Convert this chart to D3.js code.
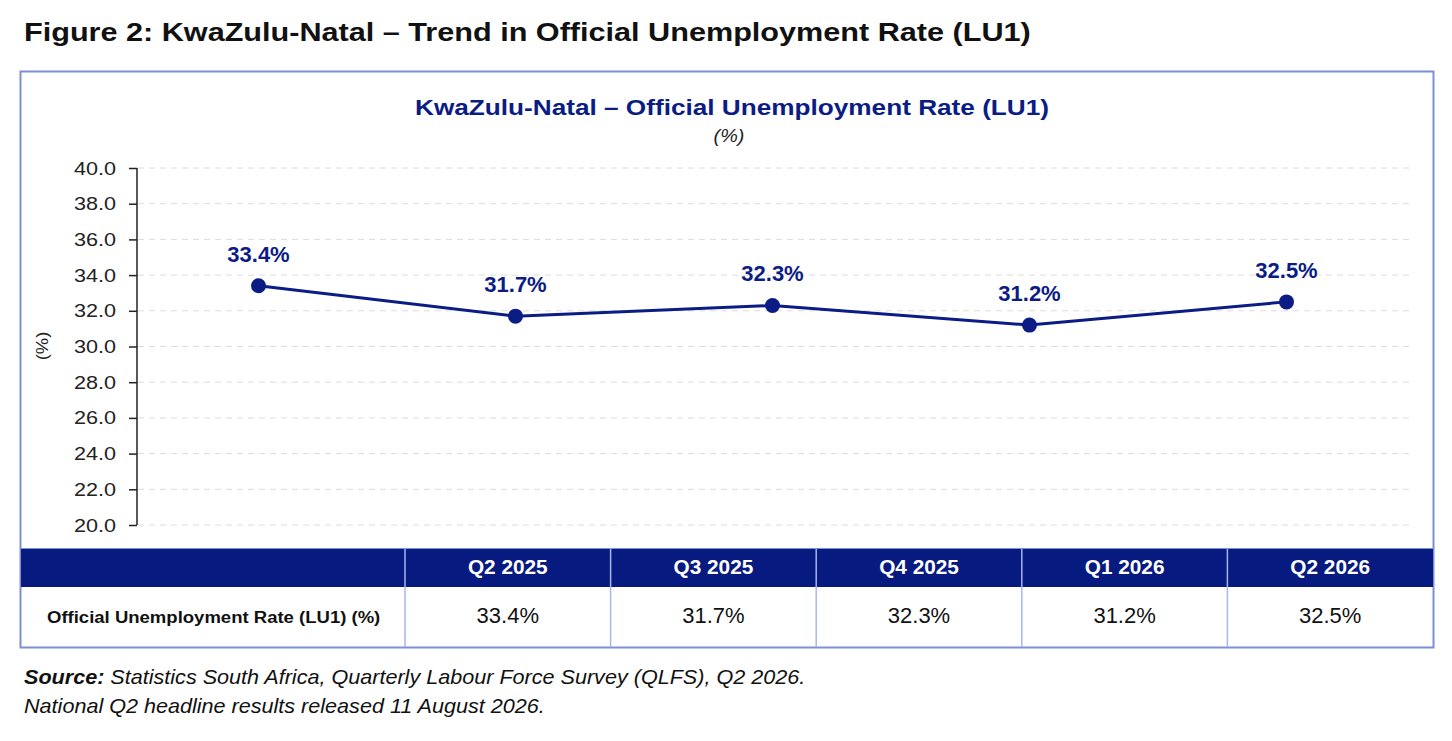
<!DOCTYPE html>
<html>
<head>
<meta charset="utf-8">
<title>KwaZulu-Natal unemployment</title>
<script src="https://d3js.org/d3.v7.min.js"></script>
<style>
  body { margin: 0; background: #fff; }
  svg { display: block; font-family: "Liberation Sans", Arial, sans-serif; }
</style>
</head>
<body>
<script>
// data
var quarters = ["Q2 2025", "Q3 2025", "Q4 2025", "Q1 2026", "Q2 2026"];
var rates = [33.4, 31.7, 32.3, 31.2, 32.5];
var yTicks = [20, 22, 24, 26, 28, 30, 32, 34, 36, 38, 40];
var rowLabel = "Official Unemployment Rate (LU1) (%)";

var W = 1452, H = 741;
var navy = "#0b1c85", frame = "#7d8fd6";

var svg = d3.select("body").append("svg")
    .attr("width", W)
    .attr("height", H);

// some of the source figure's type is wider than Arial, so that text gets a horizontal stretch
function stretch(sel, sx) {
  sel.each(function() {
    var t = d3.select(this);
    var tx = +t.attr("x") || 0, ty = +t.attr("y") || 0;
    t.attr("x", 0).attr("y", 0)
     .attr("transform", "translate(" + tx + "," + ty + ") scale(" + sx + ",1)");
  });
  return sel;
}

// figure heading
svg.append("text")
    .attr("x", 24).attr("y", 41)
    .style("font-size", "25px").style("font-weight", "bold").attr("fill", "#111")
    .text("Figure 2: KwaZulu-Natal \u2013 Trend in Official Unemployment Rate (LU1)")
    .call(stretch, 1.225);

// outer frame
svg.append("rect")
    .attr("x", 20.5).attr("y", 71.5)
    .attr("width", 1413).attr("height", 576)
    .attr("fill", "none").attr("stroke", frame).attr("stroke-width", 2);

svg.append("text")
    .attr("x", 732).attr("y", 115)
    .attr("text-anchor", "middle")
    .style("font-size", "22px").style("font-weight", "bold").attr("fill", navy)
    .text("KwaZulu-Natal \u2013 Official Unemployment Rate (LU1)")
    .call(stretch, 1.19);

svg.append("text")
    .attr("x", 729).attr("y", 142)
    .attr("text-anchor", "middle")
    .style("font-size", "18px").style("font-style", "italic").attr("fill", "#222")
    .text("(%)")
    .call(stretch, 1.1);

// scales
var x = d3.scaleBand().domain(quarters).range([130, 1415]);
var y = d3.scaleLinear().domain([20, 40]).range([525, 168]);

// gridlines
svg.append("g").selectAll("line")
    .data(yTicks)
    .join("line")
    .attr("x1", 138).attr("x2", 1410)
    .attr("y1", function(d) { return y(d); })
    .attr("y2", function(d) { return y(d); })
    .attr("stroke", "#dcdcdc").attr("stroke-dasharray", "6,5");

var yAxis = svg.append("g")
    .attr("transform", "translate(137,0)")
    .call(d3.axisLeft(y).tickValues(yTicks).tickFormat(d3.format(".1f")).tickSize(8).tickPadding(13));
yAxis.select(".domain").attr("stroke", "#222").attr("stroke-width", 1.5).attr("d", "M0," + y(40) + "V" + y(20));
yAxis.selectAll(".tick line").attr("stroke", "#222").attr("stroke-width", 1.5);
yAxis.selectAll(".tick text")
    .style("font-size", "18px").style("font-family", "'Liberation Sans', Arial, sans-serif")
    .attr("fill", "#222")
    .attr("x", -21).attr("y", 6).attr("dy", null)
    .call(stretch, 1.2);

svg.append("text")
    .attr("transform", "translate(48,346) rotate(-90) scale(1.15,1)")
    .attr("text-anchor", "middle")
    .style("font-size", "16px").attr("fill", "#222")
    .text("(%)");

// line + points
var line = d3.line()
    .x(function(d, i) { return x(quarters[i]) + x.bandwidth() / 2; })
    .y(function(d) { return y(d); });

svg.append("path")
    .datum(rates)
    .attr("d", line)
    .attr("fill", "none").attr("stroke", navy).attr("stroke-width", 3);

svg.append("g").selectAll("circle")
    .data(rates)
    .join("circle")
    .attr("cx", function(d, i) { return x(quarters[i]) + x.bandwidth() / 2; })
    .attr("cy", function(d) { return y(d); })
    .attr("r", 7.5)
    .attr("fill", navy);

svg.append("g").selectAll("text")
    .data(rates)
    .join("text")
    .attr("x", function(d, i) { return x(quarters[i]) + x.bandwidth() / 2; })
    .attr("y", function(d) { return y(d) - 24; })
    .attr("text-anchor", "middle")
    .style("font-size", "22px").style("font-weight", "bold").attr("fill", navy)
    .text(function(d) { return d.toFixed(1) + "%"; });

// data table under the chart
var col = d3.scaleBand().domain(quarters).range([405, 1433]);
var headTop = 548, headH = 39, bodyH = 60;

svg.append("rect")
    .attr("x", 21).attr("y", headTop)
    .attr("width", 1412).attr("height", headH)
    .attr("fill", "#061a80");

svg.append("g").selectAll("text")
    .data(quarters)
    .join("text")
    .attr("x", function(d) { return col(d) + col.bandwidth() / 2; })
    .attr("y", headTop + 26)
    .attr("text-anchor", "middle")
    .style("font-size", "20px").style("font-weight", "bold").attr("fill", "#fff")
    .text(function(d) { return d; })
    .call(stretch, 1.04);

svg.append("g").selectAll("line")
    .data(quarters)
    .join("line")
    .attr("x1", function(d) { return col(d); })
    .attr("x2", function(d) { return col(d); })
    .attr("y1", headTop).attr("y2", headTop + headH + bodyH)
    .attr("stroke", "#a9b6ea").attr("stroke-width", 1.5);

svg.append("line")
    .attr("x1", 21).attr("x2", 1433)
    .attr("y1", headTop + 0.5).attr("y2", headTop + 0.5)
    .attr("stroke", frame).attr("stroke-width", 1);

svg.append("text")
    .attr("x", 47).attr("y", headTop + headH + 36)
    .style("font-size", "17px").style("font-weight", "bold").attr("fill", "#111")
    .text(rowLabel)
    .call(stretch, 1.09);

svg.append("g").selectAll("text")
    .data(rates)
    .join("text")
    .attr("x", function(d, i) { return col(quarters[i]) + col.bandwidth() / 2; })
    .attr("y", headTop + headH + 36)
    .attr("text-anchor", "middle")
    .style("font-size", "22px").attr("fill", "#111")
    .text(function(d) { return d.toFixed(1) + "%"; });

// source note
var src = svg.append("text")
    .attr("x", 24).attr("y", 684)
    .style("font-size", "20px").style("font-style", "italic").attr("fill", "#111");
src.append("tspan").style("font-weight", "bold").text("Source:");
src.append("tspan").text(" Statistics South Africa, Quarterly Labour Force Survey (QLFS), Q2 2026.");
src.call(stretch, 1.08);

svg.append("text")
    .attr("x", 24).attr("y", 713)
    .style("font-size", "20px").style("font-style", "italic").attr("fill", "#111")
    .text("National Q2 headline results released 11 August 2026.")
    .call(stretch, 1.08);
</script>
</body>
</html>
